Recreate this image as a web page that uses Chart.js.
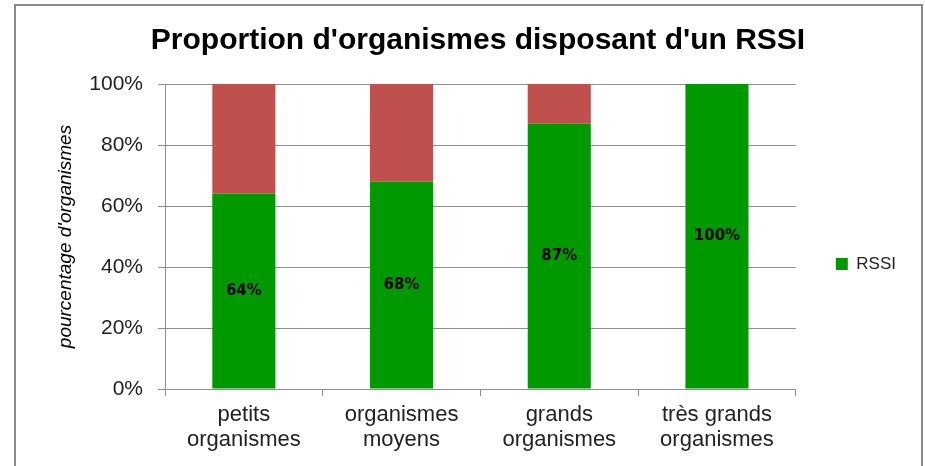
<!DOCTYPE html>
<html>
<head>
<meta charset="utf-8">
<script src="https://cdn.jsdelivr.net/npm/chart.js@4"></script>
<style>
  html, body { margin: 0; padding: 0; background: #fff; overflow: hidden; }
  #wrap { position: relative; width: 925px; height: 466px; }
  #frame { position: absolute; left: 14px; top: 4px; width: 909px; height: 500px; border: 2px solid #8a8a8a; box-sizing: border-box; }
  canvas { position: absolute; left: 0; top: 0; }
</style>
</head>
<body>
<div id="wrap">
  <div id="frame"></div>
  <canvas id="rssiChart" width="925" height="466"></canvas>
</div>
<script>
// categories and values
var categories = [
    ['petits', 'organismes'],
    ['organismes', 'moyens'],
    ['grands', 'organismes'],
    ['très grands', 'organismes']
];
var avecRssi = [64, 68, 87, 100];
var sansRssi = [36, 32, 13, 0];
var yTicks = [0, 20, 40, 60, 80, 100];

var FONT = "'Liberation Sans', Arial, sans-serif";
var GRID = '#8e8e8e';

// labels in the middle of the green bars
var barLabels = {
    id: 'barLabels',
    afterDatasetsDraw: function (chart) {
        var ctx = chart.ctx;
        var meta = chart.getDatasetMeta(0);
        ctx.save();
        ctx.font = "bold 15px 'DejaVu Sans', sans-serif";
        ctx.fillStyle = '#000';
        ctx.textAlign = 'center';
        ctx.textBaseline = 'middle';
        meta.data.forEach(function (bar, i) {
            var p = bar.getProps(['x', 'y', 'base'], true);
            ctx.fillText(avecRssi[i] + '%', p.x, (p.y + p.base) / 2);
        });
        ctx.restore();
    }
};

var ctx = document.getElementById('rssiChart').getContext('2d');
var chart = new Chart(ctx, {
    type: 'bar',
    data: {
        labels: categories,
        datasets: [{
            label: 'RSSI',
            data: avecRssi,
            backgroundColor: '#009900',
            categoryPercentage: 1,
            barPercentage: 0.4
        }, {
            label: 'pas de RSSI',
            data: sansRssi,
            backgroundColor: '#c0504d',
            categoryPercentage: 1,
            barPercentage: 0.4
        }]
    },
    plugins: [barLabels],
    options: {
        responsive: false,
        animation: false,
        layout: {
            padding: { left: 50, right: 19, top: 8, bottom: 0 }
        },
        plugins: {
            title: {
                display: true,
                text: "Proportion d'organismes disposant d'un RSSI",
                color: '#000',
                font: { family: FONT, size: 30, weight: 'bold' },
                padding: { top: 15, bottom: 25 }
            },
            legend: {
                position: 'right',
                title: {
                    display: true,
                    text: '',
                    font: { size: 20 },
                    padding: { top: 0, bottom: 30 }
                },
                labels: {
                    boxWidth: 12,
                    boxHeight: 12,
                    padding: 40,
                    color: '#222',
                    font: { family: FONT, size: 17 },
                    filter: function (item) { return item.text === 'RSSI'; }
                }
            },
            tooltip: { enabled: false }
        },
        scales: {
            x: {
                stacked: true,
                grid: { drawOnChartArea: false, color: GRID, tickLength: 7 },
                border: { color: GRID },
                ticks: {
                    color: '#222',
                    padding: 6,
                    maxRotation: 0,
                    font: { family: FONT, size: 22, lineHeight: 1.14 }
                },
                afterFit: function (scale) { scale.height = 77; }
            },
            y: {
                stacked: true,
                min: 0,
                max: 100,
                afterBuildTicks: function (scale) {
                    scale.ticks = yTicks.map(function (v) { return { value: v }; });
                },
                grid: { color: GRID, tickLength: 7 },
                border: { color: GRID },
                ticks: {
                    color: '#222',
                    padding: 15,
                    font: { family: FONT, size: 21 },
                    callback: function (v) { return v + '%'; }
                },
                title: {
                    display: true,
                    text: "pourcentage d'organismes",
                    color: '#000',
                    font: { family: FONT, size: 19, style: 'italic' }
                },
                afterFit: function (scale) { scale.width = 115; }
            }
        }
    }
});
</script>
</body>
</html>
